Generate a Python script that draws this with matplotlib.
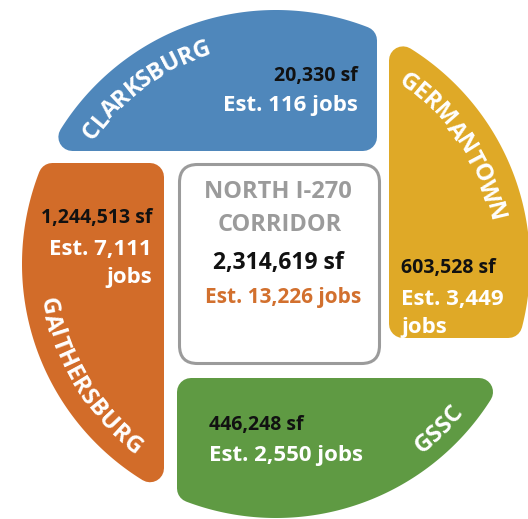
import numpy as np
import matplotlib
matplotlib.use('Agg')
from matplotlib import pyplot as plt
from matplotlib.path import Path
from matplotlib.patches import PathPatch, FancyBboxPatch
from matplotlib.font_manager import FontProperties

# data
areas = ['CLARKSBURG', 'GERMANTOWN', 'GAITHERSBURG', 'GSSC']
sqft = ['20,330', '603,528', '1,244,513', '446,248']
jobs = ['116', '3,449', '7,111', '2,550']
colors = ['#4F87BB', '#DFA927', '#D26C29', '#5F9A43']
corridor = ['NORTH I-270', 'CORRIDOR']
total_sqft = '2,314,619'
total_jobs = '13,226'

W, H, DPI = 528, 519, 100
CX, CY, R = 276, 264, 254
RND = 14  # corner rounding, px

# quadrant boxes (x0, x1, y0, y1) in px, big numbers = open side
boxes = [(-2000, 377, -2000, 151),
         (389, 3000, -2000, 338),
         (-2000, 164, 163, 3000),
         (177, 3000, 378, 3000)]

# name along the arc: mid angle, letter-centre radius, clockwise?
arcs = [(126.5, 229, True),
        (33.5, 226, True),
        (211, 229, False),
        (314.5, 231, False)]

# value labels: x, y of first line, alignment, wrap jobs
labels = [(358, 76, 'right', False),
          (401, 268, 'left', True),
          (152, 218, 'right', True),
          (209, 425, 'left', False)]

font = 'Open Sans'
fp_name = FontProperties(family=font, weight='bold', size=17)

fig = plt.figure(figsize=(W / DPI, H / DPI), dpi=DPI)
ax = fig.add_axes([0, 0, 1, 1])
ax.set_xlim(0, W)
ax.set_ylim(H, 0)
ax.axis('off')
renderer = fig.canvas.get_renderer()


def clip(pts, x0, x1, y0, y1):
    # Sutherland-Hodgman against the four box sides
    for axis, val, keep_low in [(0, x0, False), (0, x1, True), (1, y0, False), (1, y1, True)]:
        out = []
        n = len(pts)
        for i in range(n):
            a, b = pts[i], pts[(i + 1) % n]
            ina = a[axis] <= val if keep_low else a[axis] >= val
            inb = b[axis] <= val if keep_low else b[axis] >= val
            if ina:
                out.append(a)
            if ina != inb:
                f = (val - a[axis]) / (b[axis] - a[axis])
                out.append(a + f * (b - a))
        pts = out
    return np.array(pts)


t = np.linspace(0, 2 * np.pi, 1440, endpoint=False)
circ = [np.array([CX + (R - RND) * np.cos(a), CY + (R - RND) * np.sin(a)]) for a in t]

for (x0, x1, y0, y1), c in zip(boxes, colors):
    poly = clip(circ, x0 + RND, x1 - RND, y0 + RND, y1 - RND)
    verts = np.vstack([poly, poly[:1]])
    codes = [Path.MOVETO] + [Path.LINETO] * (len(poly) - 1) + [Path.CLOSEPOLY]
    ax.add_patch(PathPatch(Path(verts, codes), facecolor=c, edgecolor=c,
                           lw=2 * RND * 72 / DPI, joinstyle='round'))


def tw(s):
    return renderer.get_text_width_height_descent(s, fp_name, ismath=False)[0]


def arc_text(text, th_mid, rho, cw):
    cap = fp_name.get_size_in_points() * DPI / 72 * 0.714
    total = tw(text)
    th0 = np.radians(th_mid)
    for i, ch in enumerate(text):
        s = -total / 2 + tw(text[:i]) + tw(ch) / 2
        if cw:
            rb = rho - cap / 2
            th = th0 - s / rho
            rot = np.degrees(th) - 90
        else:
            rb = rho + cap / 2
            th = th0 + s / rho
            rot = np.degrees(th) + 90
        ax.text(CX + rb * np.cos(th), CY - rb * np.sin(th), ch, rotation=rot,
                rotation_mode='anchor', ha='center', va='baseline',
                color='white', fontproperties=fp_name)


for name, (th, rho, cw) in zip(areas, arcs):
    arc_text(name, th, rho, cw)

for sf, jb, (x, y, ha, wrap) in zip(sqft, jobs, labels):
    ax.text(x, y, sf + ' sf', ha=ha, va='center', color='#111111',
            family=font, weight='bold', size=14)
    if wrap:
        ax.text(x, y + 31, 'Est. ' + jb, ha=ha, va='center', color='white',
                family=font, weight='bold', size=16)
        ax.text(x, y + 59, 'jobs', ha=ha, va='center', color='white',
                family=font, weight='bold', size=16)
    else:
        ax.text(x, y + 30, 'Est. ' + jb + ' jobs', ha=ha, va='center',
                color='white', family=font, weight='bold', size=16)

# centre box
ax.add_patch(FancyBboxPatch((179.5, 164.5), 200, 199,
                            boxstyle='round,pad=0,rounding_size=18',
                            facecolor='white', edgecolor='#9b9b9b', lw=2.2))
ax.text(278, 192, corridor[0], ha='center', va='center', color='#9b9b9b',
        family=font, weight='bold', size=17)
ax.text(279.5, 225, corridor[1], ha='center', va='center', color='#9b9b9b',
        family=font, weight='bold', size=17)
ax.text(278, 263, total_sqft + ' sf', ha='center', va='center', color='#111111',
        family=font, weight='bold', size=16.5)
ax.text(283, 298, 'Est. ' + total_jobs + ' jobs', ha='center', va='center',
        color='#D2702E', family=font, weight='bold', size=15)

fig.savefig('out.png', dpi=DPI)
